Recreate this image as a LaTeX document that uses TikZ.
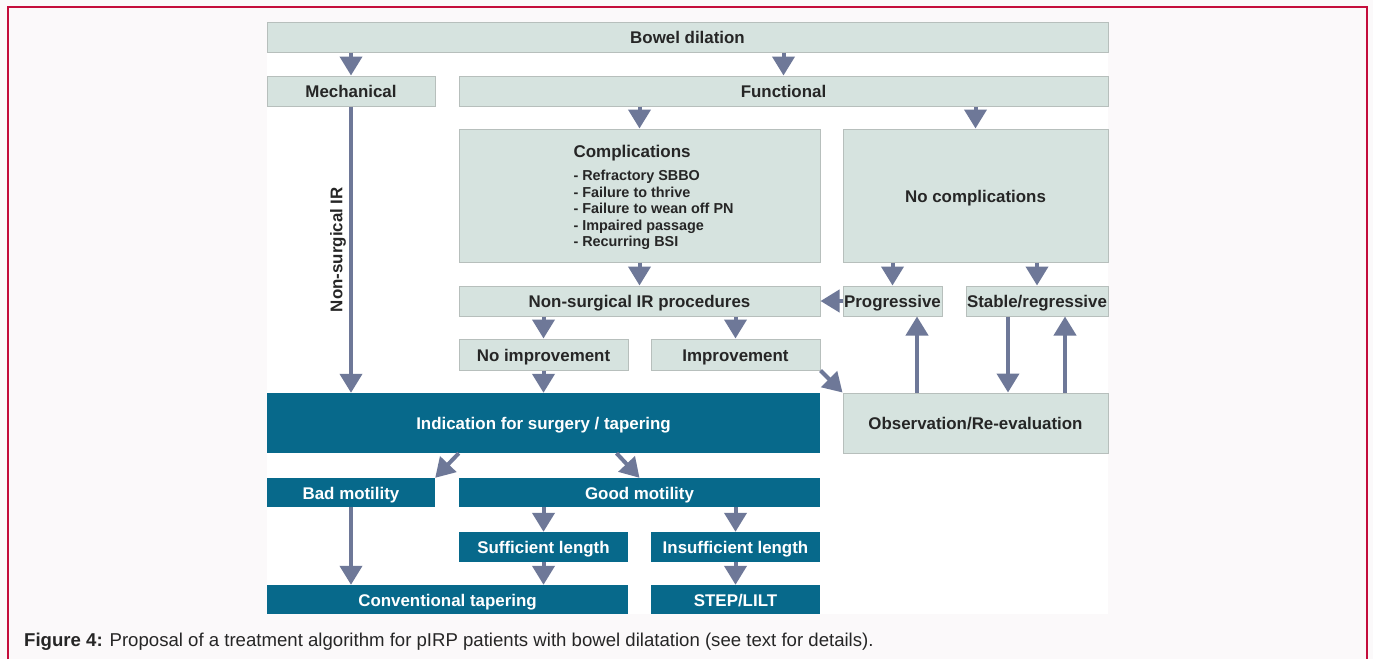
\documentclass[tikz,border=0pt]{standalone}
\usepackage{fontspec}
\setmainfont{Liberation Sans}
\usetikzlibrary{arrows.meta}
\definecolor{outerbg}{HTML}{FBF9FA}
\definecolor{framered}{HTML}{C40D3C}
\definecolor{lightfill}{HTML}{D6E3DF}
\definecolor{lightline}{HTML}{B7BFBC}
\definecolor{darkfill}{HTML}{07698B}
\definecolor{arrowcol}{HTML}{6E7898}
\definecolor{boxtext}{HTML}{262626}
\begin{document}
\begin{tikzpicture}[x=1pt, y=-1pt,
					lbox/.style={rectangle, draw=lightline, line width=1pt, fill=lightfill, text=boxtext, inner xsep=1pt, inner ysep=0pt, text height=13pt, text depth=0pt, font=\bfseries\fontsize{16.9}{19}\selectfont},
					dbox/.style={rectangle, fill=darkfill, text=white, inner xsep=1pt, inner ysep=0pt, text height=13pt, text depth=0pt, font=\bfseries\fontsize{16.9}{19}\selectfont},
					arr/.style={arrowcol, line width=4pt, -{Triangle[width=22pt, length=19pt]}}]
\useasboundingbox (0,0) rectangle (1373,659);
\fill[outerbg] (0,0) rectangle (1373,659);
\draw[framered, line width=2pt] (7.5,659) -- (7.5,6.5) -- (1367,6.5) -- (1367,659);
\fill[white] (267,22) rectangle (1108,614);

% top part
\node[lbox, minimum width=841pt, minimum height=30pt] (bowel) at (687.5,37) {Bowel dilation};
\node[lbox, minimum width=168pt, minimum height=30pt] (mech) at (351,91) {Mechanical};
\node[lbox, minimum width=649pt, minimum height=30pt] (func) at (783.5,91) {Functional};
\node[lbox, minimum width=361pt, minimum height=133pt, text height=, text depth=] (compl) at (639.5,195.5)
{\hspace*{28pt}{\fontsize{14.4}{16.5}\selectfont\begin{tabular}{@{}l@{}}
\rule{0pt}{18.5pt}\fontsize{17}{19}\selectfont Complications\\[6.5pt]
- Refractory SBBO\\
- Failure to thrive\\
- Failure to wean off PN\\
- Impaired passage\\
- Recurring BSI
\end{tabular}}};
\node[lbox, minimum width=265pt, minimum height=133pt] (nocompl) at (975.5,195.5) {No complications};
\node[lbox, minimum width=361pt, minimum height=30pt] (nsirp) at (639.5,301) {Non-surgical IR procedures};
\node[lbox, minimum width=99pt, minimum height=30pt] (prog) at (892.5,301) {Progressive};
\node[lbox, minimum width=142pt, minimum height=30pt] (stable) at (1037,301) {Stable/regressive};
\node[lbox, minimum width=169pt, minimum height=31pt] (noimpr) at (543.5,354.5) {No improvement};
\node[lbox, minimum width=169pt, minimum height=31pt] (impr) at (735.5,354.5) {Improvement};
\node[lbox, minimum width=265pt, minimum height=60pt] (obs) at (975.5,423) {Observation/Re-evaluation};

% surgery part
\node[dbox, minimum width=553pt, minimum height=60pt] (indic) at (543.5,423) {Indication for surgery / tapering};
\node[dbox, minimum width=168pt, minimum height=29pt] (bad) at (351,492.5) {Bad motility};
\node[dbox, minimum width=361pt, minimum height=29pt] (good) at (639.5,492.5) {Good motility};
\node[dbox, minimum width=169pt, minimum height=30pt] (suff) at (543.5,547) {Sufficient length};
\node[dbox, minimum width=169pt, minimum height=30pt] (insuff) at (735.5,547) {Insufficient length};
\node[dbox, minimum width=361pt, minimum height=29pt] (conv) at (447.5,599.5) {Conventional tapering};
\node[dbox, minimum width=169pt, minimum height=29pt] (step) at (735.5,599.5) {STEP/LILT};

% arrows
\draw[arr] (bowel.south -| mech) -- (mech.north);
\draw[arr] (bowel.south -| func) -- (func.north);
\draw[arr] (func.south -| compl) -- (compl.north);
\draw[arr] (func.south -| nocompl) -- (nocompl.north);
\draw[arr] (mech.south) -- node[rotate=90, anchor=south, inner sep=3pt, text=boxtext, font=\bfseries\fontsize{16.9}{19}\selectfont] {Non-surgical IR} (indic.north -| mech);
\draw[arr] (compl.south) -- (nsirp.north);
\draw[arr] (nocompl.south -| prog) -- (prog.north);
\draw[arr] (nocompl.south -| stable) -- (stable.north);
\draw[arr] (prog.west) -- (nsirp.east);
\draw[arr] (nsirp.south -| noimpr) -- (noimpr.north);
\draw[arr] (nsirp.south -| impr) -- (impr.north);
\draw[arr] (noimpr.south) -- (indic.north -| noimpr);
\draw[arr] (impr.south east) -- (obs.north west);
\coordinate (progup) at ([xshift=24.5pt]prog.south);
\coordinate (stabdown) at ([xshift=-29pt]stable.south);
\coordinate (stabup) at ([xshift=28pt]stable.south);
\draw[arr] (obs.north -| progup) -- (progup);
\draw[arr] (stabdown) -- (obs.north -| stabdown);
\draw[arr] (obs.north -| stabup) -- (stabup);
\draw[arr] (indic.south -| good.west) -- (bad.north east);
\draw[arr] ([xshift=73pt]indic.south) -- (good.north);
\draw[arr] (good.south -| suff) -- (suff.north);
\draw[arr] (good.south -| insuff) -- (insuff.north);
\draw[arr] (bad.south) -- (conv.north -| bad);
\draw[arr] (suff.south) -- (conv.north -| suff);
\draw[arr] (insuff.south) -- (step.north);

\node[anchor=base west, inner sep=0pt, text=boxtext, font=\fontsize{18.6}{22}\selectfont] (caption) at (24,646.5)
{\textbf{Figure 4:} Proposal of a treatment algorithm for pIRP patients with bowel dilatation (see text for details).};
\end{tikzpicture}
\end{document}
